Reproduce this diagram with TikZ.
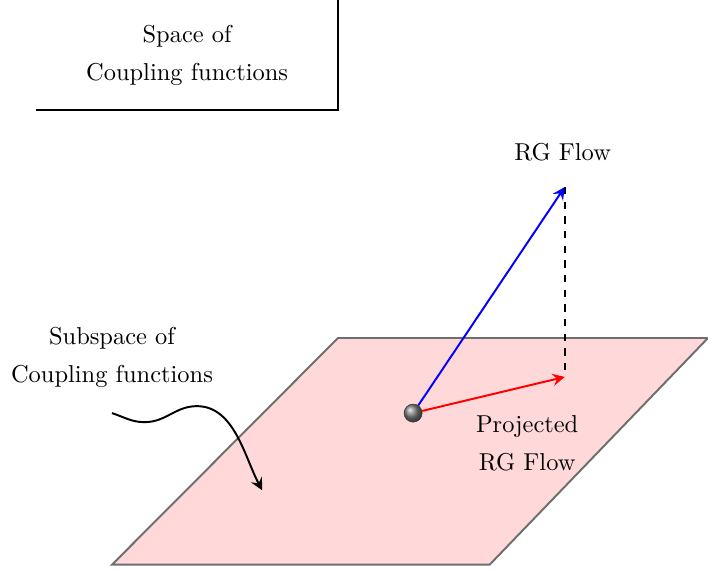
\documentclass[tikz,border=0pt]{standalone}
\usetikzlibrary{arrows.meta,positioning}
\definecolor{planefill}{HTML}{FFD9D9}
\definecolor{planeedge}{HTML}{6E6E6E}
\tikzset{
  lbl/.style={align=center, font=\normalsize},
  plane/.style={fill=planefill, draw=planeedge, thick},
  flow/.style={-{Stealth[length=5pt,width=5pt,inset=1.8pt]}, thick},
  ballnode/.style={circle, inner sep=0pt, minimum size=0.26cm, shading=ball,
                   ball color=gray, draw=black!80, very thin}
}
\begin{document}
\begin{tikzpicture}[x=1cm,y=1cm]
  \useasboundingbox (0,0) rectangle (10.18,8.21);

  % outer space (box cut at the page edge)
  \node[lbl] (space) at (2.69,7.41) {Space of\\[3.5pt]Coupling functions};
  \coordinate (boxtop) at (4.86,8.5);
  \coordinate (boxcorner) at (4.86,6.63);
  \coordinate (boxleft) at (0.52,6.63);
  \draw[thick] (boxtop) -- (boxcorner) -- (boxleft);

  % subspace plane
  \coordinate (p1) at (1.61,0.09);
  \coordinate (p2) at (7.04,0.09);
  \coordinate (p3) at (10.18,3.35);
  \coordinate (p4) at (4.86,3.35);
  \draw[plane] (p1) -- (p2) -- (p3) -- (p4) -- cycle;

  % flows
  \node[ballnode] (g) at (5.94,2.27) {};
  \coordinate (rg) at (8.12,5.52);
  \coordinate (proj) at (8.12,2.79);
  \draw[thick, dashed] (rg) -- (proj);
  \draw[flow, blue] (g) -- (rg);
  \draw[flow, red] (g) -- (proj);
  \node[lbl] (rglbl) at (8.09,6.02) {RG Flow};
  \node[lbl] (projlbl) at (7.58,1.83) {Projected\\[3.5pt]RG Flow};

  % pointer to the plane
  \node[lbl] (sub) at (1.61,3.07) {Subspace of\\[3.5pt]Coupling functions};
  \coordinate (w0) at (1.61,2.27);
  \coordinate (wlow) at (2.08,2.14);
  \coordinate (w1) at (2.83,2.37);
  \coordinate (w2) at (3.77,1.16);
  \draw[flow] (w0) to[out=-18,in=180] (wlow) to[out=0,in=180] (w1)
                   to[out=0,in=118,looseness=0.9] (w2);
\end{tikzpicture}
\end{document}
